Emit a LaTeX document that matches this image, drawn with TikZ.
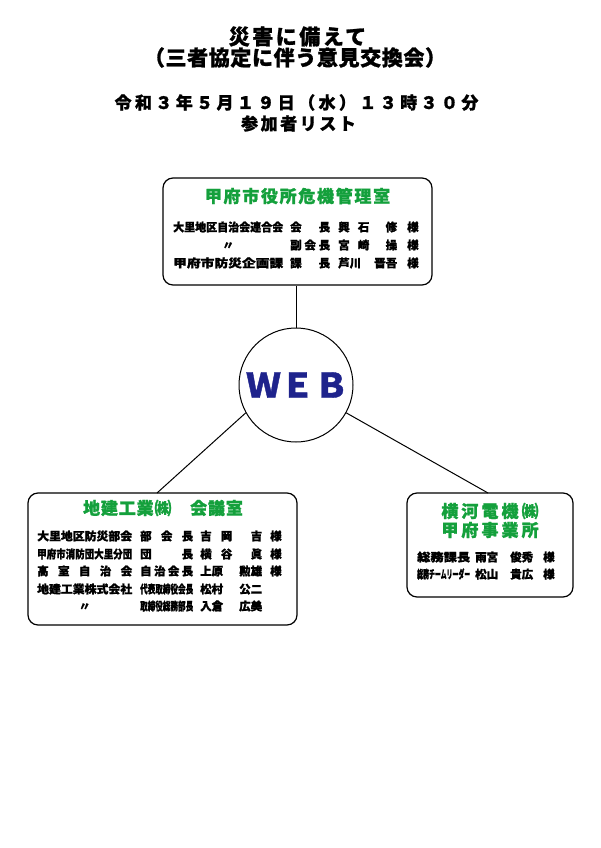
\documentclass[tikz,border=0pt]{standalone}
\usepackage{fontspec}
\usepackage{graphicx}
\setmainfont{Noto Sans CJK JP}[BoldFeatures={FakeBold=1.2}]
\definecolor{midori}{RGB}{20,160,60}
\definecolor{kon}{RGB}{30,35,140}
% 均等割付と長体
\newcommand{\spr}[2]{\makebox[#1][s]{#2}}
\newcommand{\sqz}[2]{\resizebox{#1}{\height}{#2}}
\tikzset{
  box/.style={draw, rounded corners=10pt, line width=1.2pt},
  hdr/.style={text=midori, inner sep=0pt, align=center,
    font=\bfseries\fontsize{17}{19}\selectfont\addfontfeatures{LetterSpace=#1}},
  hdr/.default=5,
  row/.style={anchor=west, inner sep=0pt, font=\bfseries\fontsize{11.5}{11.5}\selectfont},
  ttl/.style={inner sep=0pt, font=\bfseries\fontsize{#1}{#1}\selectfont}
}
\begin{document}
\begin{tikzpicture}[x=1pt,y=-1pt]
  \useasboundingbox (0,0) rectangle (600,848);
  % 表題
  \node[ttl=21] (t1) at (297.5,36.5) {\addfontfeatures{LetterSpace=12}災害に備えて};
  \node[ttl=21] (t2) at (295,57.5) {\addfontfeatures{LetterSpace=3}（三者協定に伴う意見交換会）};
  \node[ttl=17] (t3) at (296.5,102.5) {\addfontfeatures{LetterSpace=20}令和３年５月１９日（水）１３時３０分};
  \node[ttl=17] (t4) at (298.5,123.5) {\addfontfeatures{LetterSpace=15}参加者リスト};
  % 甲府市役所の枠
  \node[box, minimum width=269pt, minimum height=107pt] (kiki) at (297.5,231.5) {};
  \node[hdr=10] (kikih) at (297.5,196) {甲府市役所危機管理室};
  \node[row] (k1) at (173,227) {\sqz{110pt}{大里地区自治会連合会}\hspace{7pt}\spr{40pt}{会\hfill 長}\hspace{8pt}\spr{59pt}{興\hfill 石\hfill\hfill 修}\hspace{10pt}様};
  \node[row] (k2) at (173,245) {\makebox[110pt]{〃}\hspace{7pt}\spr{40pt}{副\hfill 会\hfill 長}\hspace{8pt}\spr{59pt}{宮\hfill 崎\hfill\hfill 操}\hspace{10pt}様};
  \node[row] (k3) at (173,263) {\sqz{110pt}{甲府市防災企画課}\hspace{7pt}\spr{40pt}{課\hfill 長}\hspace{8pt}\spr{59pt}{芦川\hfill 晋吾}\hspace{10pt}様};
  % WEBの円
  \node[draw, circle, line width=1pt, minimum size=114pt, inner sep=0pt, text=kon,
    font=\bfseries\fontsize{34}{34}\selectfont] (web) at (296,385) {\hspace{3pt}ＷＥＢ};
  % 地建工業の枠
  \node[box, minimum width=269pt, minimum height=132pt] (kaigi) at (162.5,559) {};
  \node[hdr] (kaigih) at (163,508) {地建工業㈱　会議室};
  \node[row] (c1) at (37,536) {\sqz{95pt}{大里地区防災部会}\hspace{8pt}\spr{53pt}{部\hfill 会\hfill 長}\hspace{7pt}\spr{62pt}{吉\hfill 岡\hfill\hfill 吉}\hspace{8pt}様};
  \node[row] (c2) at (37,554) {\sqz{95pt}{甲府市消防団大里分団}\hspace{8pt}\spr{53pt}{団\hfill 長}\hspace{7pt}\spr{62pt}{横\hfill 谷\hfill\hfill 眞}\hspace{8pt}様};
  \node[row] (c3) at (37,571) {\spr{95pt}{高\hfill 室\hfill 自\hfill 治\hfill 会}\hspace{8pt}\spr{53pt}{自\hfill 治\hfill 会\hfill 長}\hspace{7pt}\spr{62pt}{上原\hfill 勲雄}\hspace{8pt}様};
  \node[row] (c4) at (37,589) {\sqz{95pt}{地建工業株式会社}\hspace{8pt}\sqz{53pt}{代表取締役会長}\hspace{7pt}\spr{62pt}{松村\hfill 公二}};
  \node[row] (c5) at (37,606) {\makebox[95pt]{〃}\hspace{8pt}\sqz{53pt}{取締役総務部長}\hspace{7pt}\spr{62pt}{入倉\hfill 広美}};
  % 横河電機の枠
  \node[box, minimum width=166pt, minimum height=104pt] (yoko) at (490,545) {};
  \node[hdr=18] (yokoh) at (490,520.5) {横河電機㈱\\甲府事業所};
  \node[row] (y1) at (417,557) {\sqz{53pt}{総務課長}\hspace{5pt}\spr{58pt}{雨宮\hfill 俊秀}\hspace{10pt}様};
  \node[row] (y2) at (417,574) {\sqz{53pt}{総務チームリーダー}\hspace{5pt}\spr{58pt}{松山\hfill 貴広}\hspace{10pt}様};
  % 結線
  \coordinate (lt) at (157,493);
  \coordinate (rt) at (488,493);
  \draw[line width=1pt] (web) -- (web |- kiki.south);
  \draw[line width=1pt] (web.209) -- (lt);
  \draw[line width=1pt] (web.331) -- (rt);
\end{tikzpicture}
\end{document}
